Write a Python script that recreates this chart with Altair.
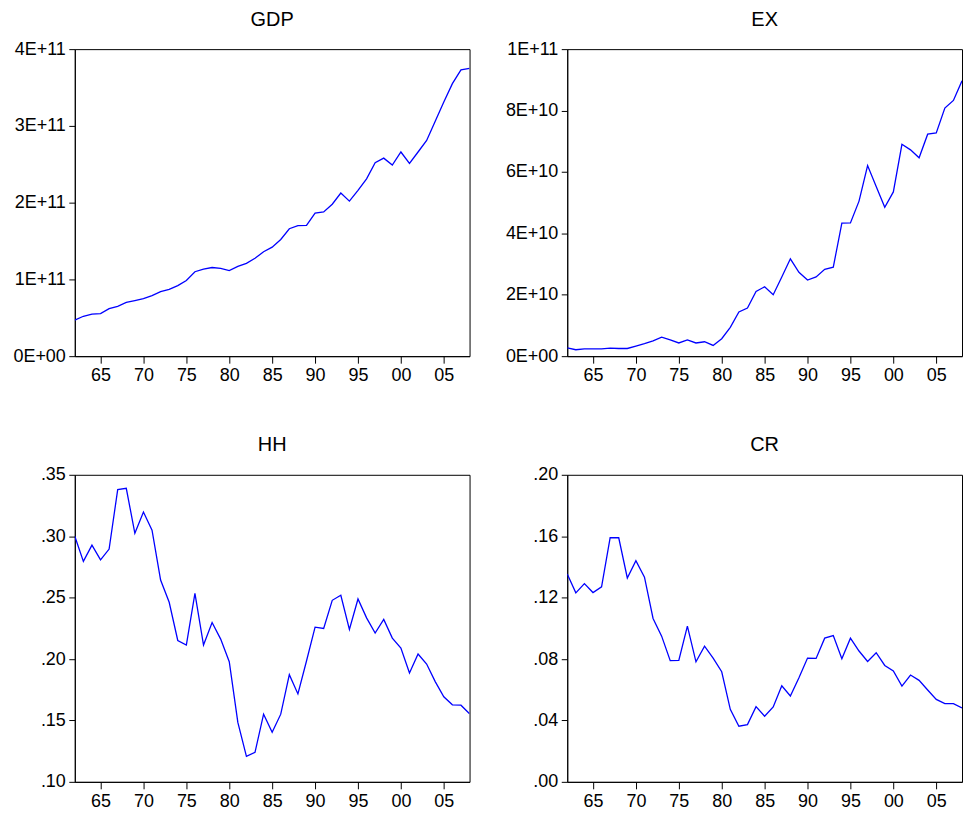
import altair as alt
import pandas as pd

years = list(range(1962, 2009))

gdp = [4.70e10, 5.20e10, 5.47e10, 5.55e10, 6.20e10, 6.50e10, 7.00e10, 7.25e10, 7.50e10, 7.90e10,
       8.40e10, 8.70e10, 9.20e10, 9.85e10, 1.100e11, 1.135e11, 1.155e11, 1.145e11, 1.115e11, 1.170e11,
       1.210e11, 1.275e11, 1.360e11, 1.420e11, 1.520e11, 1.660e11, 1.700e11, 1.705e11, 1.865e11, 1.880e11,
       1.980e11, 2.125e11, 2.020e11, 2.160e11, 2.310e11, 2.520e11, 2.580e11, 2.490e11, 2.660e11, 2.510e11,
       2.660e11, 2.810e11, 3.060e11, 3.310e11, 3.550e11, 3.730e11, 3.750e11]

ex = [2.7e9, 2.1e9, 2.4e9, 2.4e9, 2.4e9, 2.6e9, 2.5e9, 2.5e9, 3.3e9, 4.1e9,
      5.0e9, 6.2e9, 5.3e9, 4.3e9, 5.3e9, 4.3e9, 4.7e9, 3.5e9, 5.7e9, 9.4e9,
      1.44e10, 1.57e10, 2.11e10, 2.26e10, 2.00e10, 2.58e10, 3.17e10, 2.73e10, 2.48e10, 2.58e10,
      2.83e10, 2.90e10, 4.33e10, 4.34e10, 5.05e10, 6.21e10, 5.53e10, 4.85e10, 5.35e10, 6.90e10,
      6.72e10, 6.46e10, 7.23e10, 7.27e10, 8.08e10, 8.33e10, 8.97e10]

hh = [0.300, 0.2795, 0.2927, 0.2808, 0.2895, 0.338, 0.339, 0.3024, 0.3197, 0.3049,
      0.2643, 0.2462, 0.2151, 0.2114, 0.2535, 0.2114, 0.2297, 0.2162, 0.1978, 0.1484,
      0.1208, 0.1240, 0.1551, 0.1403, 0.1551, 0.1873, 0.1716, 0.1984, 0.2259, 0.2249,
      0.2478, 0.2519, 0.2241, 0.2489, 0.2335, 0.2211, 0.2322, 0.2170, 0.2089, 0.1886,
      0.2041, 0.1959, 0.1816, 0.1692, 0.1627, 0.1624, 0.1554]

cr = [0.1354, 0.1231, 0.1291, 0.1233, 0.1270, 0.1590, 0.1590, 0.1328, 0.1441, 0.1333,
      0.1064, 0.0949, 0.0789, 0.0791, 0.1014, 0.0782, 0.0884, 0.0806, 0.0717, 0.0472,
      0.0362, 0.0373, 0.0490, 0.0427, 0.0488, 0.0626, 0.0559, 0.0678, 0.0806, 0.0804,
      0.0936, 0.0953, 0.0802, 0.0936, 0.0852, 0.0784, 0.0841, 0.0758, 0.0722, 0.0624,
      0.0696, 0.0661, 0.0598, 0.0537, 0.0509, 0.0509, 0.0481]

x_ticks = [1965, 1970, 1975, 1980, 1985, 1990, 1995, 2000, 2005]
x_tick_labels = ["65", "70", "75", "80", "85", "90", "95", "00", "05"]

gdp_ticks = [0, 1e11, 2e11, 3e11, 4e11]
gdp_tick_labels = ["0E+00", "1E+11", "2E+11", "3E+11", "4E+11"]
ex_ticks = [0, 2e10, 4e10, 6e10, 8e10, 1e11]
ex_tick_labels = ["0E+00", "2E+10", "4E+10", "6E+10", "8E+10", "1E+11"]
hh_ticks = [0.10, 0.15, 0.20, 0.25, 0.30, 0.35]
hh_tick_labels = [".10", ".15", ".20", ".25", ".30", ".35"]
cr_ticks = [0.00, 0.04, 0.08, 0.12, 0.16, 0.20]
cr_tick_labels = [".00", ".04", ".08", ".12", ".16", ".20"]

FONT = "Liberation Sans"


def label_expr(vals, labs):
    eps = (max(vals) - min(vals)) * 1e-6
    expr = "''"
    for v, l in reversed(list(zip(vals, labs))):
        expr = f"abs(datum.value - ({v!r})) < {eps!r} ? '{l}' : ({expr})"
    return expr


def panel(name, values, domain, ticks, labels):
    df = pd.DataFrame({"year": years, "value": values})
    return (
        alt.Chart(df, title=alt.Title(name))
        .mark_line(color="#0000ff", strokeWidth=1.3, clip=True)
        .encode(
            x=alt.X(
                "year:Q",
                scale=alt.Scale(domain=[1962, 2008], nice=False, zero=False),
                axis=alt.Axis(values=x_ticks, labelExpr=label_expr(x_ticks, x_tick_labels), title=None),
            ),
            y=alt.Y(
                "value:Q",
                scale=alt.Scale(domain=domain, nice=False, zero=False),
                axis=alt.Axis(values=ticks, labelExpr=label_expr(ticks, labels), title=None),
            ),
        )
        .properties(width=396, height=308)
    )


chart = (
    alt.concat(
        panel("GDP", gdp, [0, 4e11], gdp_ticks, gdp_tick_labels),
        panel("EX", ex, [0, 1e11], ex_ticks, ex_tick_labels),
        panel("HH", hh, [0.10, 0.35], hh_ticks, hh_tick_labels),
        panel("CR", cr, [0.0, 0.20], cr_ticks, cr_tick_labels),
        columns=2,
        spacing={"row": 49, "column": 34},
    )
    .properties(padding={"left": 4, "top": 0, "right": 0, "bottom": 0}, background="white")
    .configure_view(stroke="black", strokeWidth=1)
    .configure_title(
        font=FONT, fontSize=20, fontWeight="normal", color="black",
        anchor="middle", baseline="bottom", offset=10.5,
    )
    .configure_axis(
        labelFont=FONT, labelFontSize=18, labelColor="black",
        domainColor="black", tickColor="black", domainWidth=1, tickWidth=1,
        grid=False, labelFlush=False, labelOverlap=False,
    )
    .configure_axisX(tickSize=7, labelPadding=3.8)
    .configure_axisY(tickSize=6, labelPadding=3.5, minExtent=62, maxExtent=62)
)

chart.save("out.html", embed_options={"renderer": "svg", "actions": False})
